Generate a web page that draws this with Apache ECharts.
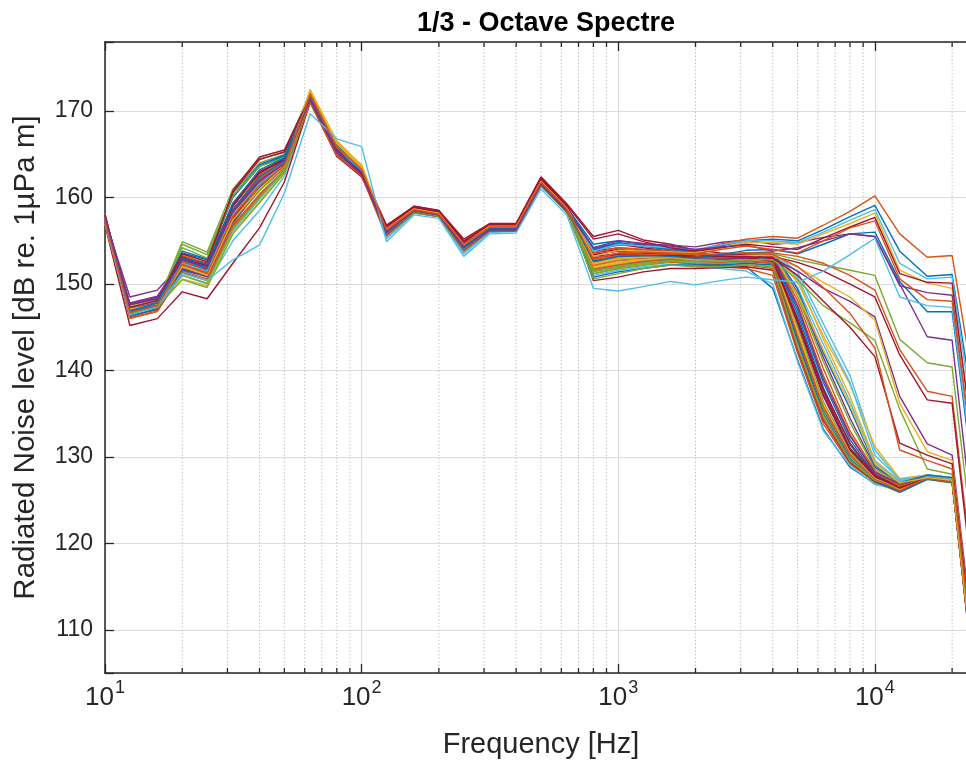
<!DOCTYPE html>
<html>
<head>
<meta charset="utf-8">
<title>1/3 - Octave Spectre</title>
<script src="https://cdn.jsdelivr.net/npm/echarts@6/dist/echarts.min.js"></script>
<style>
  html, body { margin: 0; padding: 0; background: #ffffff; overflow: hidden; }
  #chart { width: 966px; height: 764px; }
</style>
</head>
<body>
<div id="chart"></div>
<script>
// 1/3-octave band centre frequencies [Hz]
const bands = [10, 12.5, 16, 20, 25, 31.5, 40, 50, 63, 80, 100, 125, 160, 200, 250, 315, 400, 500,
  630, 800, 1000, 1250, 1600, 2000, 2500, 3150, 4000, 5000, 6300, 8000, 10000, 12500, 16000, 20000, 25000];

// Minor (dotted) grid frequencies between the decades
const minorFreqs = [20, 30, 40, 50, 60, 70, 80, 90, 200, 300, 400, 500, 600, 700, 800, 900,
  2000, 3000, 4000, 5000, 6000, 7000, 8000, 9000, 20000];

// Level ticks [dB]
const levelTicks = [110, 120, 130, 140, 150, 160, 170];

// Spectra whose level falls off between 4 and 10 kHz
const fallingSpectra = [
  [157.8,146.5,147.5,152.0,151.0,157.0,161.0,163.5,171.8,165.0,162.8,155.8,158.4,157.9,154.0,156.2,156.3,161.6,158.5,152.0,152.8,152.6,152.8,152.4,152.2,152.0,149.5,141.2,133.2,128.8,126.9,126.3,127.6,127.2,101.5],
  [158.2,146.0,146.8,151.5,150.6,156.5,160.0,163.0,171.2,164.8,162.5,156.2,158.6,158.1,154.8,156.5,156.6,161.9,158.8,151.5,152.0,152.5,152.6,152.3,152.0,151.8,151.0,142.0,133.8,129.2,127.1,126.0,127.5,127.1,101.8],
  [157.2,147.4,148.0,153.0,152.0,158.5,162.0,164.2,172.2,166.0,163.5,156.5,158.7,158.2,154.5,156.6,156.7,161.8,158.7,153.0,153.5,153.4,153.2,152.8,152.6,152.4,152.0,143.2,134.6,129.6,127.0,125.9,127.4,127.0,102.0],
  [156.8,147.8,148.6,152.8,151.8,157.5,161.8,163.6,171.0,165.8,163.2,155.6,158.3,157.8,153.8,156.0,156.2,161.5,158.4,152.3,152.6,152.8,153.0,152.7,152.4,152.6,152.4,143.8,135.4,130.1,127.4,126.1,127.6,127.3,101.2],
  [157.6,147.2,147.6,154.6,153.4,160.5,164.0,165.0,172.0,166.2,163.0,156.0,158.8,158.3,154.2,156.4,156.4,161.7,158.6,151.8,152.4,152.6,152.9,152.5,152.6,152.9,152.8,145.0,136.4,130.6,127.6,126.4,127.8,127.5,102.4],
  [157.0,146.8,147.4,151.0,150.0,155.0,158.5,162.5,171.0,165.2,163.4,155.2,158.2,157.9,153.6,156.0,156.1,161.3,158.3,151.0,151.6,152.0,152.3,152.0,151.8,151.5,150.0,141.0,133.0,129.0,126.8,126.2,127.6,127.2,101.0],
  [157.9,147.1,147.9,153.2,152.4,159.0,162.8,164.6,171.6,165.4,162.6,156.8,158.9,158.4,154.6,156.8,156.9,162.2,159.0,154.0,154.6,154.2,153.8,153.2,153.0,153.2,153.0,146.0,137.6,131.0,127.9,126.6,127.7,127.3,102.2],
  [157.4,146.2,147.2,152.2,151.2,157.8,161.6,163.8,171.4,165.0,162.9,155.9,158.5,158.0,154.2,156.2,156.3,161.6,158.5,152.8,153.2,153.2,153.1,152.8,152.8,153.0,153.2,147.0,138.6,132.0,128.0,126.8,127.9,127.6,102.6],
  [157.3,146.6,147.7,152.6,151.4,158.2,161.4,163.7,171.7,165.6,163.1,156.2,158.4,157.9,154.4,156.4,156.5,161.8,158.6,152.6,153.4,153.6,153.4,153.0,152.9,153.1,153.4,148.1,140.2,133.0,128.4,126.7,127.6,127.2,102.0],
  [157.8,147.6,148.2,153.4,152.6,159.2,162.6,164.2,172.4,166.4,163.6,156.6,158.6,158.1,154.9,156.8,156.8,161.9,158.8,152.2,152.8,153.0,153.2,153.0,153.2,153.4,153.6,150.6,143.6,137.0,129.6,127.2,127.7,127.4,102.8],
  [157.5,148.5,149.3,152.4,151.6,157.8,161.2,163.5,171.3,165.2,162.8,155.9,158.4,157.9,154.1,156.2,156.3,161.6,158.5,153.4,153.8,153.6,153.5,153.2,153.0,153.3,153.5,149.0,141.5,134.5,128.8,127.0,127.8,127.5,101.6],
  [157.2,146.9,147.5,152.0,151.0,157.2,160.8,163.4,171.5,165.4,162.9,156.1,158.5,158.0,154.3,156.3,156.4,161.7,158.6,151.4,152.0,152.4,152.6,152.4,152.4,152.6,152.6,144.2,135.6,130.2,127.3,126.0,127.6,127.4,101.4],
  [157.6,147.3,147.8,152.8,152.0,158.4,162.2,164.0,171.9,166.0,163.6,155.8,158.6,158.2,154.0,156.4,156.5,161.6,158.4,152.9,153.0,153.2,153.3,153.0,153.0,153.2,153.6,151.4,145.4,139.4,130.8,127.3,127.9,127.6,102.4],
  [156.8,145.2,146.0,149.1,148.3,152.4,156.5,161.8,171.0,164.8,162.4,156.4,158.8,158.4,154.8,156.6,156.6,162.0,158.9,150.4,150.8,151.4,151.8,151.8,151.9,152.0,151.6,142.4,134.2,129.4,127.1,126.1,127.5,127.1,101.0],
  [157.9,147.0,147.9,153.6,152.8,160.0,163.6,164.8,172.0,166.0,163.2,156.3,158.7,158.2,154.6,156.6,156.7,161.9,158.9,154.6,155.0,154.6,154.2,153.6,153.3,153.5,153.3,146.5,138.0,131.4,127.8,126.5,127.7,127.3,102.2],
  [157.4,146.4,147.0,151.8,150.8,156.8,160.4,163.2,171.3,165.0,162.6,155.5,158.3,157.8,153.9,156.1,156.2,161.4,158.4,151.2,151.8,152.2,152.5,152.3,152.2,152.2,151.8,142.6,134.4,129.5,127.2,126.2,127.5,127.2,101.3],
  [157.0,146.6,147.3,150.6,149.8,156.0,159.5,163.0,172.2,166.2,163.8,156.2,158.5,158.0,154.4,156.5,156.5,161.7,158.6,152.0,152.6,152.8,153.0,152.8,152.8,153.0,153.6,150.2,144.0,138.4,131.2,127.5,127.9,127.6,102.6],
  [157.7,147.5,148.4,153.0,152.2,158.6,162.4,164.3,171.6,165.6,163.0,156.0,158.6,158.1,154.3,156.4,156.4,161.7,158.6,153.2,153.5,153.4,153.3,153.0,152.8,153.0,152.9,145.4,137.0,130.8,127.7,126.4,127.6,127.2,101.8],
  [157.5,147.0,147.7,154.9,153.7,161.0,164.5,165.2,172.1,166.4,163.3,156.4,158.7,158.2,154.5,156.6,156.6,161.8,158.7,152.5,153.0,153.0,153.1,152.9,153.0,153.4,153.4,148.6,141.0,134.0,128.6,126.9,127.8,127.4,102.2],
  [157.3,146.7,147.4,151.4,150.4,156.2,159.8,163.2,171.2,165.0,162.8,155.4,158.2,157.8,153.5,156.0,156.1,161.4,158.3,151.6,152.2,152.5,152.7,152.5,152.5,152.6,153.2,149.6,143.0,136.4,129.4,127.2,127.6,127.3,101.9],
  [157.6,147.2,148.0,152.9,151.9,160.8,164.7,165.5,171.8,165.8,163.2,156.8,159.0,158.5,155.0,156.9,157.0,162.4,159.3,155.5,156.2,155.1,154.6,153.9,153.6,153.4,153.0,145.6,137.2,130.9,127.7,126.6,127.8,127.4,102.0],
  [157.1,146.3,147.1,151.6,150.9,157.4,161.2,163.6,171.4,165.2,162.9,155.7,158.4,157.9,154.0,156.2,156.3,161.5,158.4,150.8,151.4,151.8,152.2,152.2,152.2,152.4,152.2,143.4,135.0,129.8,127.2,125.9,127.4,127.0,101.5],
  [157.8,147.4,148.1,153.3,152.3,159.4,163.0,164.4,172.0,165.9,163.3,156.3,158.6,158.2,154.6,156.6,156.6,161.9,158.8,152.4,153.0,153.4,153.6,153.2,153.2,153.6,153.5,147.6,139.4,132.6,128.2,126.6,127.5,127.1,102.3],
  [157.4,147.6,148.2,152.2,151.2,157.6,161.4,163.8,172.4,166.6,163.7,156.0,158.5,158.0,154.2,156.4,156.4,161.6,158.5,151.9,152.4,152.8,153.0,152.7,152.6,152.8,152.7,144.6,136.0,130.4,127.5,126.2,127.7,127.3,101.7],
  [157.9,147.3,148.0,152.6,151.4,158.0,161.8,164.0,171.2,165.0,162.6,155.9,158.4,157.9,154.2,156.3,156.3,161.6,158.5,153.8,154.2,154.0,153.8,153.4,153.2,153.4,153.2,147.4,139.0,132.4,128.2,126.9,127.7,127.3,102.0],
  [156.9,146.8,147.4,150.5,149.6,155.8,159.4,162.8,171.1,165.1,162.8,155.6,158.2,157.8,153.8,156.1,156.1,161.4,158.3,150.6,151.2,151.8,152.2,152.0,152.0,152.2,152.0,142.8,134.8,129.6,127.3,126.4,127.8,127.4,101.5],
  [157.5,147.1,147.8,152.7,151.8,158.3,162.0,164.0,171.8,165.7,163.2,156.1,158.6,158.1,154.4,156.5,156.5,161.8,158.6,152.7,153.2,153.2,153.3,153.0,153.0,153.3,153.6,150.8,144.6,138.6,130.2,127.4,127.8,127.5,102.4],
  [157.2,146.5,147.5,152.3,151.3,157.6,161.5,163.8,171.5,165.5,163.0,156.5,158.8,158.3,154.7,156.7,156.8,162.1,158.9,153.6,154.0,153.8,153.6,153.2,153.0,153.1,152.6,145.8,137.8,131.6,127.9,126.4,127.6,127.2,101.8],
  [157.6,147.4,148.3,153.8,152.9,160.2,163.8,164.9,172.1,166.1,163.3,156.2,158.7,158.2,154.7,156.6,156.7,161.9,158.8,154.2,154.7,154.4,154.0,153.5,153.3,153.6,153.7,149.4,142.0,135.6,129.0,127.0,127.9,127.6,102.5],
  [157.0,146.1,146.9,151.3,150.4,156.6,160.2,163.1,171.0,164.9,162.5,155.6,158.3,157.8,153.9,156.1,156.1,161.4,158.4,151.7,152.2,152.6,152.9,152.6,152.5,152.7,152.4,144.0,135.8,130.3,127.4,126.1,127.6,127.2,101.6],
  [157.7,147.2,147.9,152.5,151.7,158.1,161.9,163.9,171.9,165.8,163.1,156.0,158.5,158.0,154.3,156.4,156.4,161.7,158.6,152.4,153.0,153.1,153.2,153.0,153.0,153.3,153.4,148.8,142.4,136.0,129.2,127.0,127.6,127.3,102.1]
];

// Spectra whose level falls off above 10 kHz
const lateSpectra = [
  [157.4,147.4,148.2,154.2,153.0,160.2,163.6,164.6,171.8,165.9,163.4,156.2,158.6,158.1,154.4,156.5,156.6,161.8,158.7,151.2,151.8,152.2,152.6,152.6,153.0,153.3,153.5,152.8,152.2,151.6,151.0,143.6,140.9,140.4,116],
  [157.9,147.0,147.7,152.4,151.5,158.6,162.6,164.1,171.6,165.4,162.9,156.0,158.5,158.0,154.2,156.4,156.4,161.7,158.6,152.2,152.8,153.0,153.2,153.2,153.4,153.6,153.6,153.2,152.4,151.0,149.3,142.4,137.6,137.0,112],
  [157.5,146.9,147.6,152.5,151.6,159.0,163.0,164.4,171.4,165.3,162.7,156.6,158.8,158.3,154.8,156.8,156.9,162.1,159.0,153.4,153.8,153.6,153.4,153.2,153.3,153.4,153.2,152.5,151.5,150.0,148.5,141.8,136.6,136.2,111],
  [157.6,147.7,148.5,152.9,152.0,158.3,161.8,163.8,171.3,165.2,162.8,155.8,158.4,157.9,154.0,156.2,156.2,161.5,158.4,153.9,154.5,154.6,154.5,154.3,154.8,155.1,154.6,154.8,155.4,155.8,155.5,150.0,143.9,143.5,118],
  [157.1,147.2,148.0,151.8,150.9,157.2,161.0,163.5,171.6,165.6,163.0,156.1,158.5,158.0,154.3,156.4,156.4,161.6,158.5,152.6,153.2,153.3,153.2,153.0,153.0,153.1,153.0,151.5,149.5,148.0,146.2,137.0,131.5,130.2,105],
  [157.6,147.5,148.1,152.7,151.9,158.5,162.3,164.2,172.3,166.3,163.5,156.2,158.6,158.1,154.4,156.5,156.5,161.8,158.7,152.3,152.9,153.1,153.2,153.1,153.2,153.3,153.3,152.0,150.2,148.5,145.8,136.2,130.6,129.6,104],
  [157.3,146.6,147.3,151.0,150.1,156.4,160.0,163.2,171.5,165.5,163.1,155.9,158.4,157.9,154.1,156.3,156.3,161.6,158.5,151.5,152.0,152.4,152.7,152.6,152.7,152.8,152.8,150.5,147.5,145.5,143.5,135.5,128.6,128.0,103],
  [157.7,147.0,147.9,153.1,152.1,159.2,162.8,164.4,171.7,165.6,163.0,156.5,158.7,158.2,154.6,156.7,156.7,162.0,158.9,153.0,153.4,153.4,153.3,153.1,153.2,153.2,153.0,151.0,148.0,145.0,141.6,131.6,130.2,129.2,104],
  [157.4,146.8,147.6,152.2,151.3,157.8,161.6,163.9,171.8,165.7,163.2,156.1,158.5,158.0,154.4,156.4,156.5,161.7,158.6,152.8,153.3,153.4,153.5,153.4,153.5,153.6,153.4,152.0,149.6,146.6,142.6,130.8,129.6,128.6,103]
];

// Spectra that stay high up to 20 kHz
const flatSpectra = [
  [157.6,147.0,147.8,152.6,151.7,158.4,162.2,164.0,172.0,165.9,163.2,156.2,158.6,158.1,154.5,156.5,156.5,161.8,158.7,153.6,154.2,154.0,153.8,153.9,154.6,155.2,155.5,155.3,156.8,158.4,160.2,155.8,153.1,153.3,136],
  [157.3,146.8,147.6,153.0,152.3,159.3,163.2,164.6,171.8,165.7,163.0,156.0,158.5,158.0,154.2,156.4,156.4,161.7,158.6,154.0,154.8,154.4,154.0,153.8,154.4,155.0,155.2,155.0,156.3,157.8,159.1,153.8,150.9,151.1,133],
  [157.7,147.3,148.0,152.4,151.5,158.0,161.6,163.8,171.6,165.6,163.1,156.1,158.6,158.1,154.3,156.4,156.5,161.7,158.7,153.8,154.6,154.4,154.2,154.0,154.5,155.0,155.0,154.8,156.0,157.4,158.6,152.4,150.6,150.8,131],
  [157.4,147.1,147.7,152.0,151.0,157.4,161.0,163.6,172.5,166.3,163.5,156.4,158.7,158.2,154.6,156.7,156.7,161.9,158.8,153.2,153.9,153.8,153.7,153.6,154.2,154.8,154.8,154.6,155.8,157.0,158.2,151.6,150.1,149.5,129],
  [158.0,147.3,148.1,153.5,152.6,160.6,164.4,165.3,171.7,165.6,162.8,156.7,159.0,158.5,155.2,157.0,157.0,162.3,159.2,155.2,155.8,154.9,154.2,153.8,154.2,154.6,154.3,154.0,155.3,156.6,157.7,151.2,150.2,150.1,128],
  [157.5,146.9,147.8,152.8,151.8,158.6,162.4,164.2,171.6,165.4,163.0,156.0,158.5,158.0,154.3,156.4,156.4,161.7,158.6,152.6,153.2,153.3,153.2,153.0,153.4,153.9,154.0,153.5,154.6,155.8,156.0,150.3,146.8,146.8,124],
  [157.8,147.6,148.3,152.8,152.0,158.4,162.0,163.9,171.4,165.3,162.9,156.0,158.5,158.0,154.2,156.3,156.3,161.6,158.5,154.2,155.0,154.7,154.4,154.0,154.3,154.5,153.8,154.2,155.0,155.8,155.5,149.8,149.0,148.7,126],
  [157.0,146.4,147.4,151.2,150.4,152.8,154.5,160.5,169.7,166.8,165.9,154.9,158.0,157.6,153.2,155.8,155.9,161.0,158.0,149.5,149.2,149.7,150.3,149.9,150.4,150.8,150.5,150.2,151.5,153.4,155.3,148.5,147.5,147.3,125],
  [157.2,146.7,147.5,152.3,151.2,157.9,161.4,163.7,171.9,165.8,163.3,156.3,158.6,158.1,154.6,156.6,156.6,161.8,158.7,152.9,153.6,153.7,153.6,153.5,154.0,154.4,154.0,153.6,155.0,156.5,157.3,150.6,148.2,148.0,127]
];

// Default MATLAB line colour order
const lineColors = ['#0072BD', '#D95319', '#EDB120', '#7E2F8E', '#77AC30', '#4DBEEE', '#A2142F'];
const lateColorIdx = [4, 1, 6, 3, 3, 2, 4, 6, 1];
const flatColorIdx = [1, 0, 5, 2, 6, 0, 3, 5, 1];

const Y_MIN = 105, Y_MAX = 178;
const X_MIN = 10, X_MAX = 25000;
const FONT = '"Liberation Sans", Arial, Helvetica, sans-serif';
const INK = '#262626';

function spectrumSeries(values, color) {
  return {
    type: 'line',
    data: bands.map((f, i) => [f, values[i]]),
    showSymbol: false,
    symbol: 'none',
    clip: true,
    silent: true,
    animation: false,
    lineStyle: { color: color, width: 1.4 },
    z: 3
  };
}

const series = [];

// dotted minor grid plus the short inner minor ticks on the top and bottom edges
series.push({
  type: 'custom',
  silent: true,
  animation: false,
  z: 1,
  data: minorFreqs.map(f => [f]),
  encode: { x: 0 },
  renderItem: function (params, api) {
    const f = api.value(0);
    const b = api.coord([f, Y_MIN]);
    const t = api.coord([f, Y_MAX]);
    return {
      type: 'group',
      children: [
        { type: 'line', shape: { x1: b[0], y1: b[1], x2: t[0], y2: t[1] },
          style: { stroke: '#c4c4c4', lineWidth: 1, lineDash: [1.5, 2] } },
        { type: 'line', shape: { x1: b[0], y1: b[1], x2: b[0], y2: b[1] - 5 },
          style: { stroke: INK, lineWidth: 1.3 } },
        { type: 'line', shape: { x1: t[0], y1: t[1], x2: t[0], y2: t[1] + 5 },
          style: { stroke: INK, lineWidth: 1.3 } }
      ]
    };
  }
});

fallingSpectra.forEach((row, i) => series.push(spectrumSeries(row, lineColors[i % 7])));
lateSpectra.forEach((row, i) => series.push(spectrumSeries(row, lineColors[lateColorIdx[i]])));
flatSpectra.forEach((row, i) => series.push(spectrumSeries(row, lineColors[flatColorIdx[i]])));

const isDecade = v => Math.abs(Math.log10(v) - Math.round(Math.log10(v))) < 1e-6;

const option = {
  backgroundColor: '#ffffff',
  animation: false,
  textStyle: { fontFamily: FONT },
  title: {
    text: '1/3 - Octave Spectre',
    left: 541,
    top: 5,
    textAlign: 'center',
    textStyle: { fontFamily: FONT, fontWeight: 'bold', fontSize: 27, color: '#000000' }
  },
  // the axes run on to 25 kHz, a little past the right edge of the page
  grid: { left: 105, width: 872, top: 42, bottom: 91, containLabel: false, outerBoundsMode: 'none' },
  xAxis: [
    {
      type: 'log',
      logBase: 10,
      min: X_MIN,
      max: X_MAX,
      position: 'bottom',
      name: 'Frequency [Hz]',
      nameLocation: 'middle',
      nameGap: 57,
      nameTextStyle: { fontFamily: FONT, fontSize: 29, color: INK },
      axisLine: { show: true, onZero: false, lineStyle: { color: INK, width: 1.5 } },
      axisTick: { show: true, inside: true, length: 9, lineStyle: { color: INK, width: 1.3 } },
      axisLabel: {
        margin: 6,
        formatter: function (v) {
          if (!isDecade(v)) return '';
          return '{b|10}{s|' + Math.round(Math.log10(v)) + '}';
        },
        rich: {
          b: { fontFamily: FONT, fontSize: 26, color: INK, lineHeight: 32, verticalAlign: 'bottom' },
          s: { fontFamily: FONT, fontSize: 18, color: INK, lineHeight: 32, verticalAlign: 'top', padding: [0, 0, 0, 1] }
        }
      },
      splitLine: { show: true, lineStyle: { color: '#dcdcdc', width: 1.2 } },
      minorTick: { show: false },
      minorSplitLine: { show: false }
    },
    {
      type: 'log',
      logBase: 10,
      min: X_MIN,
      max: X_MAX,
      position: 'top',
      axisLine: { show: true, onZero: false, lineStyle: { color: INK, width: 1.5 } },
      axisTick: { show: true, inside: true, length: 9, lineStyle: { color: INK, width: 1.3 } },
      axisLabel: { show: false },
      splitLine: { show: false }
    }
  ],
  yAxis: {
    type: 'value',
    min: Y_MIN,
    max: Y_MAX,
    minInterval: 10,
    maxInterval: 10,
    name: 'Radiated Noise level [dB re. 1µPa m]',
    nameLocation: 'middle',
    nameGap: 64,
    nameTextStyle: { fontFamily: FONT, fontSize: 29.5, color: INK },
    axisLine: { show: true, onZero: false, lineStyle: { color: INK, width: 1.5 } },
    axisTick: { show: true, inside: true, length: 9, lineStyle: { color: INK, width: 1.3 } },
    axisLabel: {
      fontFamily: FONT,
      fontSize: 23,
      color: INK,
      margin: 12,
      formatter: v => (levelTicks.indexOf(v) >= 0 ? String(v) : '')
    },
    splitLine: { show: true, lineStyle: { color: '#dcdcdc', width: 1.2 } }
  },
  series: series
};

const chart = echarts.init(document.getElementById('chart'), null, { renderer: 'canvas' });
chart.setOption(option);
</script>
</body>
</html>
